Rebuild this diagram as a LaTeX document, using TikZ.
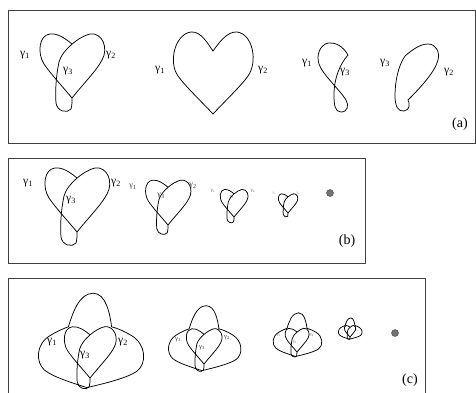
\documentclass[tikz,border=0pt]{standalone}
\usepackage{fontspec}
\setmainfont{Liberation Serif}
\newcommand{\gl}[1]{γ\textsubscript{#1}}
\tikzset{
 curve/.style={draw=black, line width=0.75pt},
 panel/.style={draw=black!75, line width=0.8pt},
 lab/.style={inner sep=0pt, font=\fontsize{11.5}{11.5}\selectfont},
 labm/.style={inner sep=0pt, text=black!80, font=\fontsize{8}{8}\selectfont},
 labs/.style={inner sep=0pt, text=black!70, font=\fontsize{4.5}{4.5}\selectfont},
 labt/.style={inner sep=0pt, text=black!60, font=\fontsize{3}{3}\selectfont},
 plabel/.style={inner sep=0pt, font=\fontsize{14}{14}\selectfont},
 dotst/.style={circle, fill=black!55, draw=black!75, minimum size=7pt, inner sep=0pt},
}
\newcommand{\heartloop}{%
 \draw[curve] (0,0) .. controls (-10,-12) and (-22,-25) .. (-28,-34) .. controls (-35,-45) and (-33,-63) .. (-22,-64) .. controls (-14,-65) and (-6,-59) .. (0,-54);
 \draw[curve] (0,0) .. controls (12,-15) and (25,-28) .. (30,-38) .. controls (37,-50) and (30,-66) .. (18,-64) .. controls (8,-62) and (-10,-48) .. (-13,-36) .. controls (-16,-22) and (-17,-5) .. (-16,5) .. controls (-15,13) and (-5,16) .. (-1,11) .. controls (0,8) and (0,4) .. (0,0);
}
\newcommand{\bellouter}{%
 \draw[curve] (-4,12) .. controls (-22,6) and (-46,-1) .. (-57,-10) .. controls (-68,-20) and (-68,-42) .. (-50,-53) .. controls (-42,-58) and (-33,-62) .. (-27,-64) .. controls (-22,-80) and (-14,-106) .. (4,-106) .. controls (20,-106) and (25,-80) .. (27,-64) .. controls (35,-62) and (44,-58) .. (52,-53) .. controls (70,-42) and (72,-18) .. (58,-8) .. controls (46,0) and (18,7) .. (-4,12) -- cycle;
}
\begin{document}
\begin{tikzpicture}[x=1pt,y=-1pt]
\useasboundingbox (0,0) rectangle (476,392);
% panels
\draw[panel] (8,10) rectangle (475,143);
\draw[panel] (8,158) rectangle (365,263);
\draw[panel] (8,278) rectangle (425,393);
% ---------- panel (a)
\begin{scope}[shift={(72,98)}] \heartloop \end{scope}
\node[lab] (a1g1) at (25,55) {\gl{1}};
\node[lab] (a1g2) at (111,55) {\gl{2}};
\node[lab] (a1g3) at (68,71) {\gl{3}};
\begin{scope}[shift={(213,114)}]
 \draw[curve] (0,0) .. controls (-12,-13) and (-28,-28) .. (-35,-38) .. controls (-45,-52) and (-38,-80) .. (-22,-82) .. controls (-12,-83) and (-5,-70) .. (0,-63) .. controls (5,-70) and (14,-83) .. (24,-82) .. controls (40,-80) and (45,-52) .. (35,-38) .. controls (28,-28) and (12,-13) .. (0,0) -- cycle;
\end{scope}
\node[lab] (a2g1) at (160,70) {\gl{1}};
\node[lab] (a2g2) at (263,70) {\gl{2}};
\draw[curve] (348,55) .. controls (343,46) and (335,42) .. (328,43) .. controls (320,45) and (316,55) .. (319,64) .. controls (322,74) and (340,90) .. (346,100) .. controls (349,105) and (348,112) .. (341,112) .. controls (335,112) and (334,105) .. (334,95) .. controls (334,78) and (340,64) .. (348,55) -- cycle;
\node[lab] (a3g1) at (307,63) {\gl{1}};
\node[lab] (a3g3) at (345,72) {\gl{3}};
\draw[curve] (408,100) .. controls (410,104) and (410,110) .. (404,111) .. controls (398,112) and (395,106) .. (395,96) .. controls (395,82) and (398,66) .. (405,56) .. controls (412,50) and (420,44) .. (428,44) .. controls (436,44) and (440,52) .. (438,60) .. controls (435,72) and (420,88) .. (408,100) -- cycle;
\node[lab] (a4g3) at (385,63) {\gl{3}};
\node[lab] (a4g2) at (449,72) {\gl{2}};
\node[plabel] (la) at (460,124) {(a)};
% ---------- panel (b)
\begin{scope}[shift={(77,232)}] \heartloop \end{scope}
\node[lab] (b1g1) at (28,183) {\gl{1}};
\node[lab] (b1g2) at (116,183) {\gl{2}};
\node[lab] (b1g3) at (71,200) {\gl{3}};
\begin{scope}[shift={(168,225)}, scale=0.7] \heartloop \end{scope}
\node[labm] (b2g1) at (133,187) {\gl{1}};
\node[labm] (b2g2) at (193,186) {\gl{2}};
\node[labm] (b2g3) at (161,196) {\gl{3}};
\begin{scope}[shift={(234,217)}, scale=0.43] \heartloop \end{scope}
\node[labs] (b3g1) at (213,191) {\gl{1}};
\node[labs] (b3g2) at (253,191) {\gl{2}};
\node[labs] (b3g3) at (232,197) {\gl{3}};
\begin{scope}[shift={(288,213)}, scale=0.3] \heartloop \end{scope}
\node[labt] (b4g1) at (274,193) {\gl{1}};
\node[labt] (b4g2) at (298,193) {\gl{2}};
\node[labt] (b4g3) at (286,197) {\gl{3}};
\node[dotst] (bdot) at (330,193) {};
\node[plabel] (lb) at (347,241) {(b)};
% ---------- panel (c)
\begin{scope}[shift={(90,378)}, scale=0.8] \heartloop \bellouter \end{scope}
\node[lab] (c1g1) at (52,342) {\gl{1}};
\node[lab] (c1g2) at (123,342) {\gl{2}};
\node[lab] (c1g3) at (85,355) {\gl{3}};
\begin{scope}[shift={(204,364)}, scale=0.55] \heartloop \bellouter \end{scope}
\node[labm, font=\fontsize{6.5}{6.5}\selectfont] (c2g1) at (178,340) {\gl{1}};
\node[labm, font=\fontsize{6.5}{6.5}\selectfont] (c2g2) at (227,338) {\gl{2}};
\node[labm, font=\fontsize{6.5}{6.5}\selectfont] (c2g3) at (202,348) {\gl{3}};
\begin{scope}[shift={(297,352)}, scale=0.37] \heartloop \bellouter \end{scope}
\node[labs, font=\fontsize{4}{4}\selectfont] (c3g1) at (279,335) {\gl{1}};
\node[labs, font=\fontsize{4}{4}\selectfont] (c3g2) at (312,335) {\gl{2}};
\node[labs, font=\fontsize{4}{4}\selectfont] (c3g3) at (295,342) {\gl{3}};
\begin{scope}[shift={(350,337)}, scale=0.18] \heartloop \bellouter \end{scope}
\node[labt, font=\fontsize{2}{2}\selectfont] (c4g1) at (343,331) {\gl{1}};
\node[labt, font=\fontsize{2}{2}\selectfont] (c4g2) at (357,331) {\gl{2}};
\node[labt, font=\fontsize{2}{2}\selectfont] (c4g3) at (349,334) {\gl{3}};
\node[dotst] (cdot) at (395,333) {};
\node[plabel] (lc) at (410,380) {(c)};
\end{tikzpicture}
\end{document}
